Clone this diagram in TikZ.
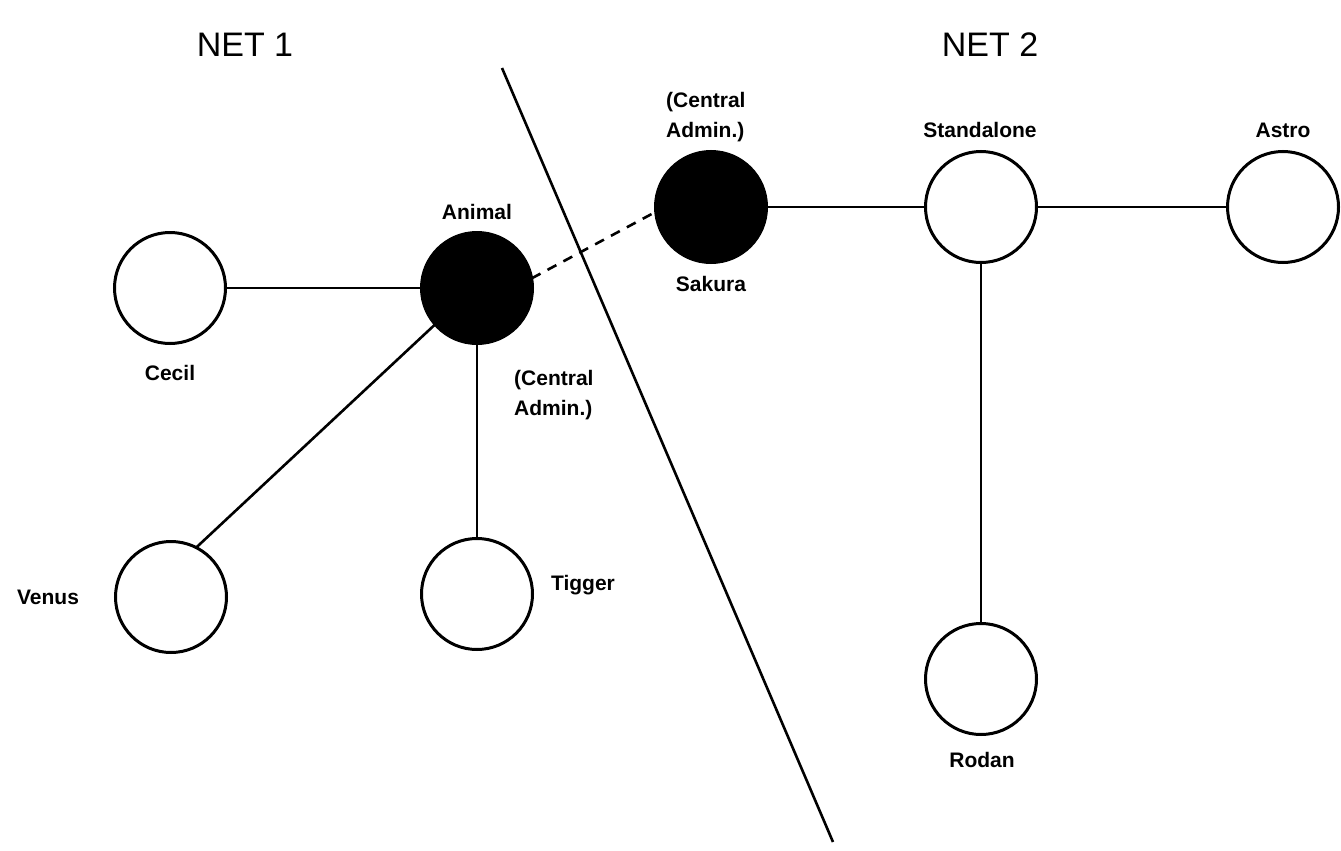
\documentclass[tikz,border=0pt]{standalone}
\usepackage{fontspec}
\setmainfont{Liberation Sans}
\begin{document}
\begin{tikzpicture}[x=1pt,y=-1pt,
  host/.style={circle,draw,line width=3pt,minimum size=111pt,inner sep=0pt,outer sep=0pt},
  admin/.style={host,fill=black},
  lbl/.style={font=\fontsize{21}{30}\selectfont\bfseries,inner sep=0pt,align=left},
  title/.style={font=\fontsize{34}{40}\selectfont,inner sep=0pt},
  link/.style={line width=2.6pt},
  remote/.style={line width=2.6pt,dash pattern=on 10pt off 8pt}]
\useasboundingbox (0,0) rectangle (1341,851);
\node[title] (net1) at (245,45) {NET 1};
\node[title] (net2) at (990,45) {NET 2};
% divider
\coordinate (dtop) at (502,68);
\coordinate (dbot) at (833,842);
\draw[line width=2.6pt] (dtop) -- (dbot);
% hosts
\node[host]  (cecil) at (170,288) {};
\node[admin] (animal) at (477,288) {};
\node[host]  (venus) at (171,597) {};
\node[host]  (tigger) at (477,594) {};
\node[admin] (sakura) at (711,207) {};
\node[host]  (stand) at (981,207) {};
\node[host]  (astro) at (1283,207) {};
\node[host]  (rodan) at (981,679) {};
% links
\draw[link] (cecil) -- (animal);
\draw[link] (animal.221) -- (venus.63);
\draw[link] (animal) -- (tigger);
\draw[remote] (animal.10) -- (sakura.185);
\draw[link] (sakura) -- (stand);
\draw[link] (stand) -- (astro);
\draw[link] (stand) -- (rodan);
% labels
\node[lbl] (lanimal) at (477,212) {Animal};
\node[lbl,anchor=west] (lanimal2) at (514,395) {(Central\\Admin.)};
\node[lbl] (lcecil) at (170,373) {Cecil};
\node[lbl] (lvenus) at (48,597) {Venus};
\node[lbl] (ltigger) at (583,585) {Tigger};
\node[lbl,anchor=west] (lsakura2) at (666,117) {(Central\\Admin.)};
\node[lbl] (lsakura) at (711,284) {Sakura};
\node[lbl] (lstand) at (980,130) {Standalone};
\node[lbl] (lastro) at (1283,130) {Astro};
\node[lbl] (lrodan) at (982,760) {Rodan};
\end{tikzpicture}
\end{document}
